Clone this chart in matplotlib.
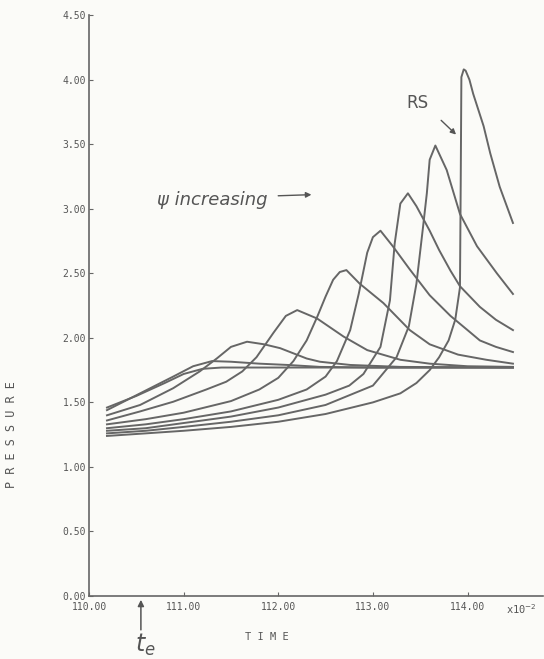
import matplotlib.pyplot as plt

# pressure traces (time in units of 1e-2, pressure)
t_c0 = [110.19, 110.5, 110.8, 111.0, 111.2, 111.4, 112.0, 113.0, 114.48]
p_c0 = [1.46, 1.55, 1.65, 1.72, 1.76, 1.77, 1.77, 1.77, 1.77]

t_c1 = [110.19, 110.54, 110.89, 111.1, 111.3, 111.5, 111.8, 112.1, 112.44, 113.0, 114.48]
p_c1 = [1.44, 1.57, 1.70, 1.78, 1.82, 1.815, 1.80, 1.79, 1.775, 1.77, 1.77]

t_c2 = [110.19, 110.54, 110.89, 111.17, 111.35, 111.5, 111.67, 111.85, 112.02, 112.30, 112.44, 112.76, 113.29, 114.48]
p_c2 = [1.40, 1.48, 1.61, 1.74, 1.84, 1.93, 1.97, 1.95, 1.92, 1.84, 1.815, 1.79, 1.775, 1.77]

t_c3 = [110.19, 110.54, 110.89, 111.24, 111.45, 111.62, 111.77, 111.95, 112.08, 112.2, 112.41, 112.69, 112.94, 113.29, 113.6, 114.0, 114.48]
p_c3 = [1.36, 1.43, 1.505, 1.60, 1.66, 1.74, 1.85, 2.04, 2.17, 2.215, 2.15, 2.01, 1.905, 1.83, 1.80, 1.78, 1.775]

t_c4 = [110.19, 110.6, 111.0, 111.5, 111.8, 112.0, 112.16, 112.30, 112.41, 112.5, 112.58, 112.65, 112.72, 112.86, 113.11, 113.39, 113.60, 113.9, 114.2, 114.48]
p_c4 = [1.33, 1.37, 1.42, 1.51, 1.60, 1.69, 1.82, 1.98, 2.16, 2.32, 2.45, 2.51, 2.525, 2.42, 2.27, 2.06, 1.95, 1.87, 1.83, 1.80]

t_c5 = [110.19, 110.6, 111.0, 111.5, 112.0, 112.3, 112.5, 112.62, 112.76, 112.85, 112.94, 113.0, 113.08, 113.21, 113.39, 113.6, 113.82, 114.0, 114.13, 114.3, 114.48]
p_c5 = [1.30, 1.33, 1.37, 1.43, 1.52, 1.60, 1.70, 1.82, 2.06, 2.34, 2.66, 2.78, 2.83, 2.71, 2.53, 2.33, 2.17, 2.06, 1.98, 1.93, 1.89]

t_c6 = [110.19, 110.6, 111.0, 111.5, 112.0, 112.5, 112.75, 112.9, 113.08, 113.18, 113.23, 113.29, 113.37, 113.46, 113.6, 113.7, 113.82, 113.92, 114.13, 114.3, 114.48]
p_c6 = [1.28, 1.30, 1.34, 1.39, 1.46, 1.56, 1.63, 1.72, 1.93, 2.29, 2.73, 3.04, 3.12, 3.02, 2.83, 2.68, 2.52, 2.40, 2.24, 2.14, 2.06]

t_c7 = [110.19, 110.6, 111.0, 111.5, 112.0, 112.5, 113.0, 113.08, 113.25, 113.38, 113.46, 113.53, 113.57, 113.6, 113.66, 113.78, 113.92, 114.1, 114.31, 114.48]
p_c7 = [1.26, 1.28, 1.31, 1.35, 1.40, 1.48, 1.63, 1.70, 1.85, 2.09, 2.42, 2.86, 3.12, 3.38, 3.49, 3.30, 2.96, 2.71, 2.50, 2.34]

t_rs = [110.19, 110.6, 111.0, 111.5, 112.0, 112.5, 113.0, 113.29, 113.46, 113.6, 113.7, 113.8, 113.87, 113.92, 113.928, 113.935, 113.96, 113.98, 114.02, 114.06, 114.17, 114.24, 114.34, 114.48]
p_rs = [1.24, 1.26, 1.28, 1.31, 1.35, 1.41, 1.50, 1.57, 1.65, 1.75, 1.85, 1.98, 2.14, 2.39, 3.2, 4.02, 4.08, 4.07, 4.0, 3.89, 3.64, 3.43, 3.17, 2.89]

x_ticks = [110, 111, 112, 113, 114]
y_ticks = [0, 0.5, 1.0, 1.5, 2.0, 2.5, 3.0, 3.5, 4.0, 4.5]

ink = '#666666'
text_ink = '#555555'
paper = '#fbfbf8'

fig = plt.figure(figsize=(5.44, 6.59), dpi=100, facecolor=paper)
ax = fig.add_axes([0.1636, 0.0956, 0.835, 0.8814], facecolor=paper)

traces = [(t_c0, p_c0), (t_c1, p_c1), (t_c2, p_c2), (t_c3, p_c3), (t_c4, p_c4),
          (t_c5, p_c5), (t_c6, p_c6), (t_c7, p_c7), (t_rs, p_rs)]
for t, p in traces:
    ax.plot(t, p, color=ink, lw=1.4, solid_joinstyle='round')

ax.set_xlim(110, 114.8)
ax.set_ylim(0, 4.5)
ax.set_xticks(x_ticks)
ax.set_yticks(y_ticks)
ax.set_xticklabels([f'{v:.2f}' for v in x_ticks])
ax.set_yticklabels([f'{v:.2f}' for v in y_ticks])

for side in ['top', 'right']:
    ax.spines[side].set_visible(False)
for side in ['left', 'bottom']:
    ax.spines[side].set_color(ink)
    ax.spines[side].set_linewidth(1.2)

ax.tick_params(axis='both', direction='in', length=3, color=ink,
               labelcolor=text_ink, labelsize=7)
ax.tick_params(axis='x', pad=4)
ax.tick_params(axis='y', pad=2)
for lab in ax.get_xticklabels() + ax.get_yticklabels():
    lab.set_family('DejaVu Sans Mono')

# axis titles, spaced like the plotter lettering
fig.text(0.022, 0.34, 'P R E S S U R E', rotation=90, ha='center', va='center',
         fontsize=8.5, color=text_ink, family='DejaVu Sans Mono')
fig.text(0.49, 0.033, 'T I M E', ha='center', va='center',
         fontsize=7.5, color=text_ink, family='DejaVu Sans Mono')
fig.text(0.93, 0.076, r'x10$^{-2}$', ha='left', va='center',
         fontsize=7.5, color=text_ink, family='DejaVu Sans Mono')

# handwritten annotations
ax.text(110.72, 3.07, 'ψ increasing', fontsize=13, color=text_ink,
        ha='left', va='center', style='italic')
ax.annotate('', xy=(112.38, 3.11), xytext=(111.97, 3.1),
            arrowprops=dict(arrowstyle='-|>', color=text_ink, lw=1, mutation_scale=8))
ax.text(113.35, 3.82, 'RS', fontsize=12, color=text_ink, ha='left', va='center')
ax.annotate('', xy=(113.9, 3.56), xytext=(113.7, 3.7),
            arrowprops=dict(arrowstyle='-|>', color=text_ink, lw=1, mutation_scale=8))

ax.annotate('', xy=(0.259, 0.094), xytext=(0.259, 0.04), xycoords='figure fraction',
            textcoords='figure fraction',
            arrowprops=dict(arrowstyle='-|>', color=text_ink, lw=1.1, mutation_scale=9))
fig.text(0.248, 0.022, r'$t_e$', fontsize=17, color=text_ink, ha='left', va='center')

fig.savefig('out.png', dpi=100, facecolor=paper)
